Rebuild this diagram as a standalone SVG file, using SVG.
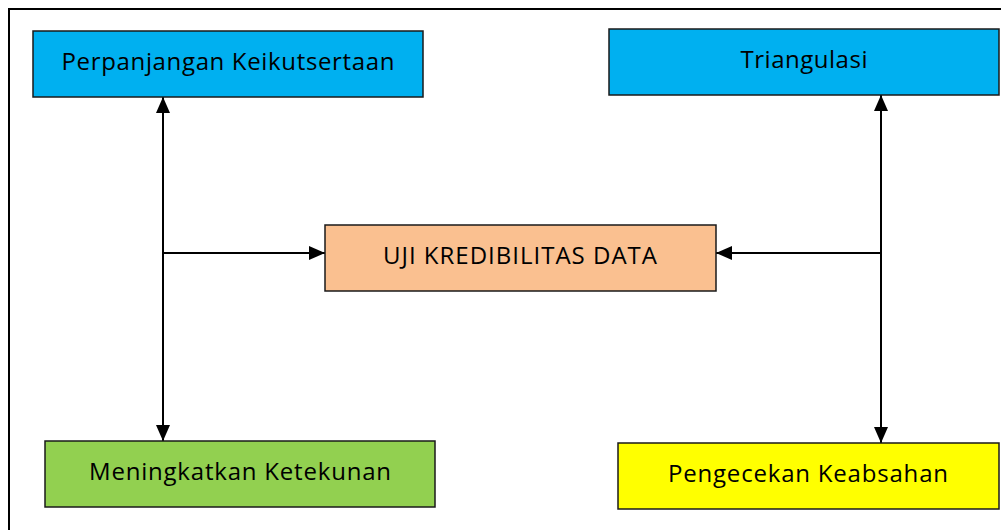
<svg xmlns="http://www.w3.org/2000/svg" width="1001" height="530" viewBox="0 0 1001 530">
<style>
.box{stroke:#1a1a1a;stroke-width:1.5}
.lbl{font-family:"Open Sans","Liberation Sans",sans-serif;font-size:24px;fill:#000;text-anchor:middle}
.con{stroke:#000;stroke-width:2;fill:none}
</style>
<defs>
<marker id="ah" viewBox="0 0 16 14" refX="16" refY="7" markerWidth="16" markerHeight="14" markerUnits="userSpaceOnUse" orient="auto-start-reverse">
<path d="M0,0 L16,7 L0,14 z" fill="#000"/>
</marker>
</defs>
<rect width="1001" height="530" fill="#fff"/>
<rect x="9" y="9" width="1010" height="540" fill="none" stroke="#000" stroke-width="2"/>
<g id="connectors">
<line class="con" x1="163" y1="97" x2="163" y2="441" marker-start="url(#ah)" marker-end="url(#ah)"/>
<line class="con" x1="163" y1="253" x2="325" y2="253" marker-end="url(#ah)"/>
<line class="con" x1="881" y1="95" x2="881" y2="443" marker-start="url(#ah)" marker-end="url(#ah)"/>
<line class="con" x1="881" y1="253" x2="716" y2="253" marker-end="url(#ah)"/>
</g>
<g id="perpanjangan">
<rect class="box" x="33" y="31" width="390" height="66" fill="#00B0F0"/>
<text class="lbl" x="228" y="70" textLength="333">Perpanjangan Keikutsertaan</text>
</g>
<g id="triangulasi">
<rect class="box" x="609" y="29" width="390" height="66" fill="#00B0F0"/>
<text class="lbl" x="804" y="68" textLength="127">Triangulasi</text>
</g>
<g id="uji">
<rect class="box" x="325" y="225" width="391" height="66" fill="#FAC090"/>
<text class="lbl" x="520" y="264" textLength="274">UJI KREDIBILITAS DATA</text>
</g>
<g id="meningkatkan">
<rect class="box" x="45" y="441" width="390" height="66" fill="#92D050"/>
<text class="lbl" x="240" y="480" textLength="302">Meningkatkan Ketekunan</text>
</g>
<g id="pengecekan">
<rect class="box" x="618" y="443" width="381" height="66" fill="#FFFF00"/>
<text class="lbl" x="808" y="482" textLength="280">Pengecekan Keabsahan</text>
</g>
</svg>
